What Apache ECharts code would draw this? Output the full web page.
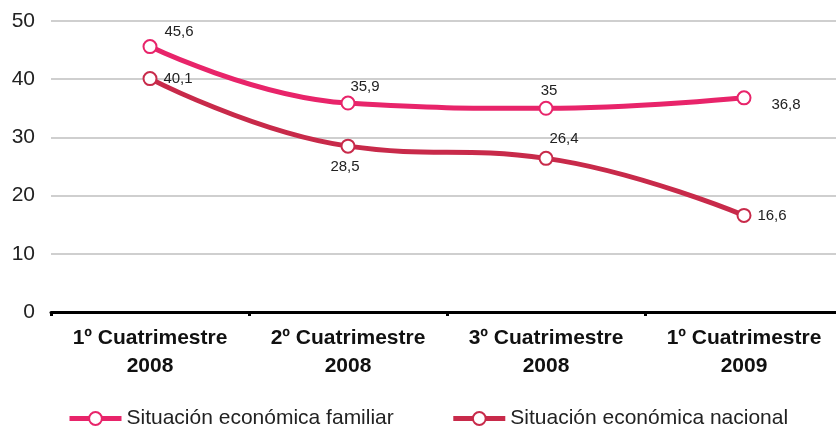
<!DOCTYPE html>
<html>
<head>
<meta charset="utf-8">
<script src="https://cdn.jsdelivr.net/npm/echarts@6/dist/echarts.min.js"></script>
<style>
  html, body { margin: 0; padding: 0; background: #fff; }
  #main { width: 836px; height: 427px; }
</style>
</head>
<body>
<div id="main"></div>
<script>
// categories and series values
const categories = ['1º Cuatrimestre\n2008', '2º Cuatrimestre\n2008', '3º Cuatrimestre\n2008', '1º Cuatrimestre\n2009'];
const familiar = [45.6, 35.9, 35, 36.8];
const nacional = [40.1, 28.5, 26.4, 16.6];
const seriesNames = ['Situación económica familiar', 'Situación económica nacional'];

// label offsets (dx, dy from point centre)
const familiarOffsets = [[29, -15], [17, -16], [3, -17], [42, 7]];
const nacionalOffsets = [[28, 0], [-3, 21], [18, -19], [28, 0]];

const font = 'Liberation Sans, Arial, sans-serif';

function withLabels(values, offsets) {
  return values.map(function (v, i) {
    return { value: v, label: { offset: offsets[i] } };
  });
}

function makeSeries(name, values, offsets, color) {
  return {
    name: name,
    type: 'line',
    smooth: 0.45,
    data: withLabels(values, offsets),
    symbol: 'circle',
    symbolSize: 13,
    lineStyle: { width: 5, color: color },
    itemStyle: { color: '#fff', borderColor: color, borderWidth: 2 },
    label: {
      show: true,
      position: 'inside',
      color: '#222',
      fontSize: 15,
      fontFamily: font,
      formatter: function (p) { return String(p.value).replace('.', ','); }
    },
    z: name === seriesNames[0] ? 3 : 2
  };
}

const myChart = echarts.init(document.getElementById('main'));

myChart.setOption({
  animation: false,
  color: ['#e8246a', '#c82a4a'],
  grid: { left: 51, top: 21, bottom: 115, width: 792, outerBoundsMode: 'none' },
  legend: {
    left: 62,
    top: 403,
    itemGap: 57,
    itemWidth: 52,
    itemHeight: 16,
    lineStyle: { width: 5 },
    itemStyle: { borderWidth: 2 },
    textStyle: { fontSize: 21, color: '#222', fontFamily: font },
    data: seriesNames
  },
  xAxis: {
    type: 'category',
    data: categories,
    boundaryGap: true,
    axisLine: { lineStyle: { color: '#000', width: 3 } },
    axisTick: { show: true, length: 4, lineStyle: { color: '#000', width: 3 } },
    axisLabel: {
      fontSize: 21,
      fontWeight: 'bold',
      color: '#111',
      fontFamily: font,
      lineHeight: 28,
      margin: 12,
      interval: 0
    }
  },
  yAxis: {
    type: 'value',
    min: 0,
    max: 50,
    interval: 10,
    axisLine: { show: false },
    axisTick: { show: false },
    splitLine: { lineStyle: { color: '#cfcfcf', width: 2 } },
    axisLabel: { fontSize: 21, color: '#222', fontFamily: font, margin: 16 }
  },
  series: [
    makeSeries(seriesNames[0], familiar, familiarOffsets, '#e8246a'),
    makeSeries(seriesNames[1], nacional, nacionalOffsets, '#c82a4a')
  ]
});
</script>
</body>
</html>
